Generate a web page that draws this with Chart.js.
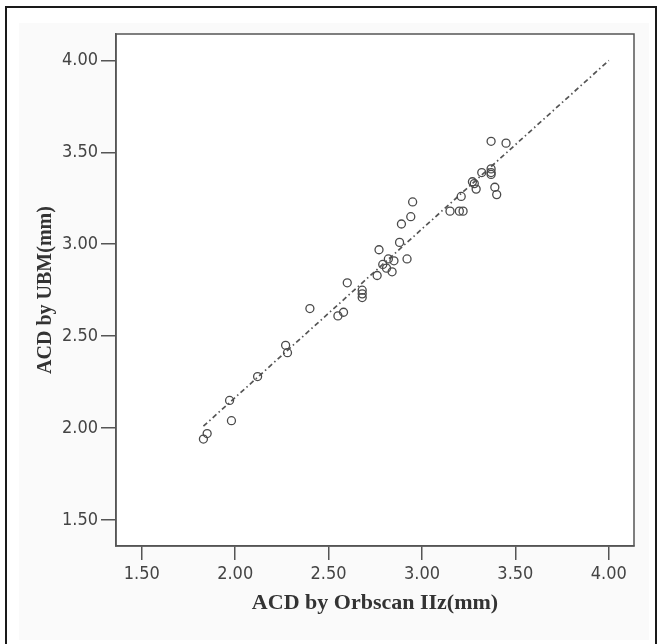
<!DOCTYPE html>
<html>
<head>
<meta charset="utf-8">
<script src="https://cdn.jsdelivr.net/npm/chart.js@4"></script>
<style>
  html, body { margin: 0; padding: 0; background: #ffffff; }
  #wrap { position: relative; width: 662px; height: 644px; }
  canvas { position: absolute; left: 0; top: 0; }
</style>
</head>
<body>
<div id="wrap"><canvas id="c" width="662" height="644"></canvas></div>
<script>
// ---- data ----
const orbscanX = [1.83, 1.85, 1.97, 1.98, 2.12, 2.27, 2.28, 2.40, 2.55, 2.58,
                  2.60, 2.68, 2.68, 2.68, 2.76, 2.77, 2.79, 2.82, 2.81, 2.84,
                  2.85, 2.88, 2.92, 2.89, 2.94, 2.95, 3.15, 3.20, 3.22, 3.21,
                  3.27, 3.28, 3.29, 3.32, 3.37, 3.37, 3.37, 3.37, 3.45, 3.39, 3.40];
const ubmY     = [1.94, 1.97, 2.15, 2.04, 2.28, 2.45, 2.41, 2.65, 2.61, 2.63,
                  2.79, 2.75, 2.73, 2.71, 2.83, 2.97, 2.89, 2.92, 2.87, 2.85,
                  2.91, 3.01, 2.92, 3.11, 3.15, 3.23, 3.18, 3.18, 3.18, 3.26,
                  3.34, 3.33, 3.30, 3.39, 3.41, 3.39, 3.38, 3.56, 3.55, 3.31, 3.27];
const fitLineX = [1.83, 4.00];
const fitLineY = [2.01, 4.00];
const xTicks = [1.5, 2.0, 2.5, 3.0, 3.5, 4.0];
const yTicks = [1.5, 2.0, 2.5, 3.0, 3.5, 4.0];
const xTitle = 'ACD by Orbscan IIz(mm)';
const yTitle = 'ACD by UBM(mm)';

const points = orbscanX.map((x, i) => ({ x: x, y: ubmY[i] }));
const linePts = fitLineX.map((x, i) => ({ x: x, y: fitLineY[i] }));

const AX = '#555555';
const tickFont = { family: "'Liberation Sans Narrow', 'DejaVu Sans Condensed', 'Liberation Sans', sans-serif", size: 18 };
const xTitleFont = { family: "'Liberation Serif', 'DejaVu Serif', serif", size: 22, weight: 'bold' };
const yTitleFont = { family: "'Liberation Serif', 'DejaVu Serif', serif", size: 20, weight: 'bold' };

const framePlugin = {
  id: 'frame',
  beforeDraw(chart) {
    const ctx = chart.ctx;
    ctx.save();
    ctx.fillStyle = '#ffffff';
    ctx.fillRect(0, 0, chart.width, chart.height);
    ctx.fillStyle = '#fafafa';
    ctx.fillRect(19, 23, 630, 617);
    const a = chart.chartArea;
    ctx.fillStyle = '#ffffff';
    ctx.fillRect(a.left, a.top, a.right - a.left, a.bottom - a.top);
    // outer frame
    ctx.strokeStyle = '#1a1a1a';
    ctx.lineWidth = 2;
    ctx.beginPath();
    ctx.moveTo(6, 650);
    ctx.lineTo(6, 7);
    ctx.lineTo(656, 7);
    ctx.lineTo(656, 650);
    ctx.stroke();
    ctx.restore();
  },
  afterDatasetsDraw(chart) {
    const ctx = chart.ctx;
    const a = chart.chartArea;
    ctx.save();
    ctx.strokeStyle = AX;
    ctx.lineWidth = 1.5;
    ctx.strokeRect(a.left, a.top, a.right - a.left, a.bottom - a.top);
    ctx.restore();
  }
};

new Chart(document.getElementById('c'), {
  type: 'scatter',
  data: {
    datasets: [
      {
        type: 'line',
        data: linePts,
        borderColor: '#555555',
        borderWidth: 1.7,
        borderDash: [5, 3, 1.5, 3],
        pointRadius: 0,
        fill: false,
        order: 2
      },
      {
        data: points,
        pointStyle: 'circle',
        pointRadius: 4,
        pointBorderWidth: 1.3,
        pointBorderColor: '#4a4a4a',
        pointBackgroundColor: 'rgba(0,0,0,0)',
        order: 1
      }
    ]
  },
  options: {
    responsive: false,
    animation: false,
    devicePixelRatio: 1,
    layout: { padding: { left: 0, right: 28, top: 34, bottom: 0 } },
    plugins: { legend: { display: false }, tooltip: { enabled: false } },
    scales: {
      x: {
        type: 'linear',
        min: 1.362, max: 4.135,
        afterFit(s) { s.height = 98; },
        afterBuildTicks(s) { s.ticks = xTicks.map(v => ({ value: v })); },
        grid: { drawOnChartArea: false, drawTicks: true, tickLength: 14, color: AX, lineWidth: 1.5 },
        border: { display: true, color: AX, width: 1.5 },
        ticks: { font: tickFont, color: '#444444', padding: 4, maxRotation: 0,
                 callback: v => Number(v).toFixed(2) },
        title: { display: true, text: xTitle, font: xTitleFont, color: '#333333',
                 padding: { top: 0, bottom: 27 } }
      },
      y: {
        type: 'linear',
        min: 1.358, max: 4.144,
        afterFit(s) { s.width = 116; },
        afterBuildTicks(s) { s.ticks = yTicks.map(v => ({ value: v })); },
        grid: { drawOnChartArea: false, drawTicks: true, tickLength: 15, color: AX, lineWidth: 1.5 },
        border: { display: true, color: AX, width: 1.5 },
        ticks: { font: tickFont, color: '#444444', padding: 3,
                 callback: v => Number(v).toFixed(2) },
        title: { display: true, text: yTitle, font: yTitleFont, color: '#333333',
                 padding: { top: 34, bottom: 0 } }
      }
    }
  },
  plugins: [framePlugin]
});
</script>
</body>
</html>
